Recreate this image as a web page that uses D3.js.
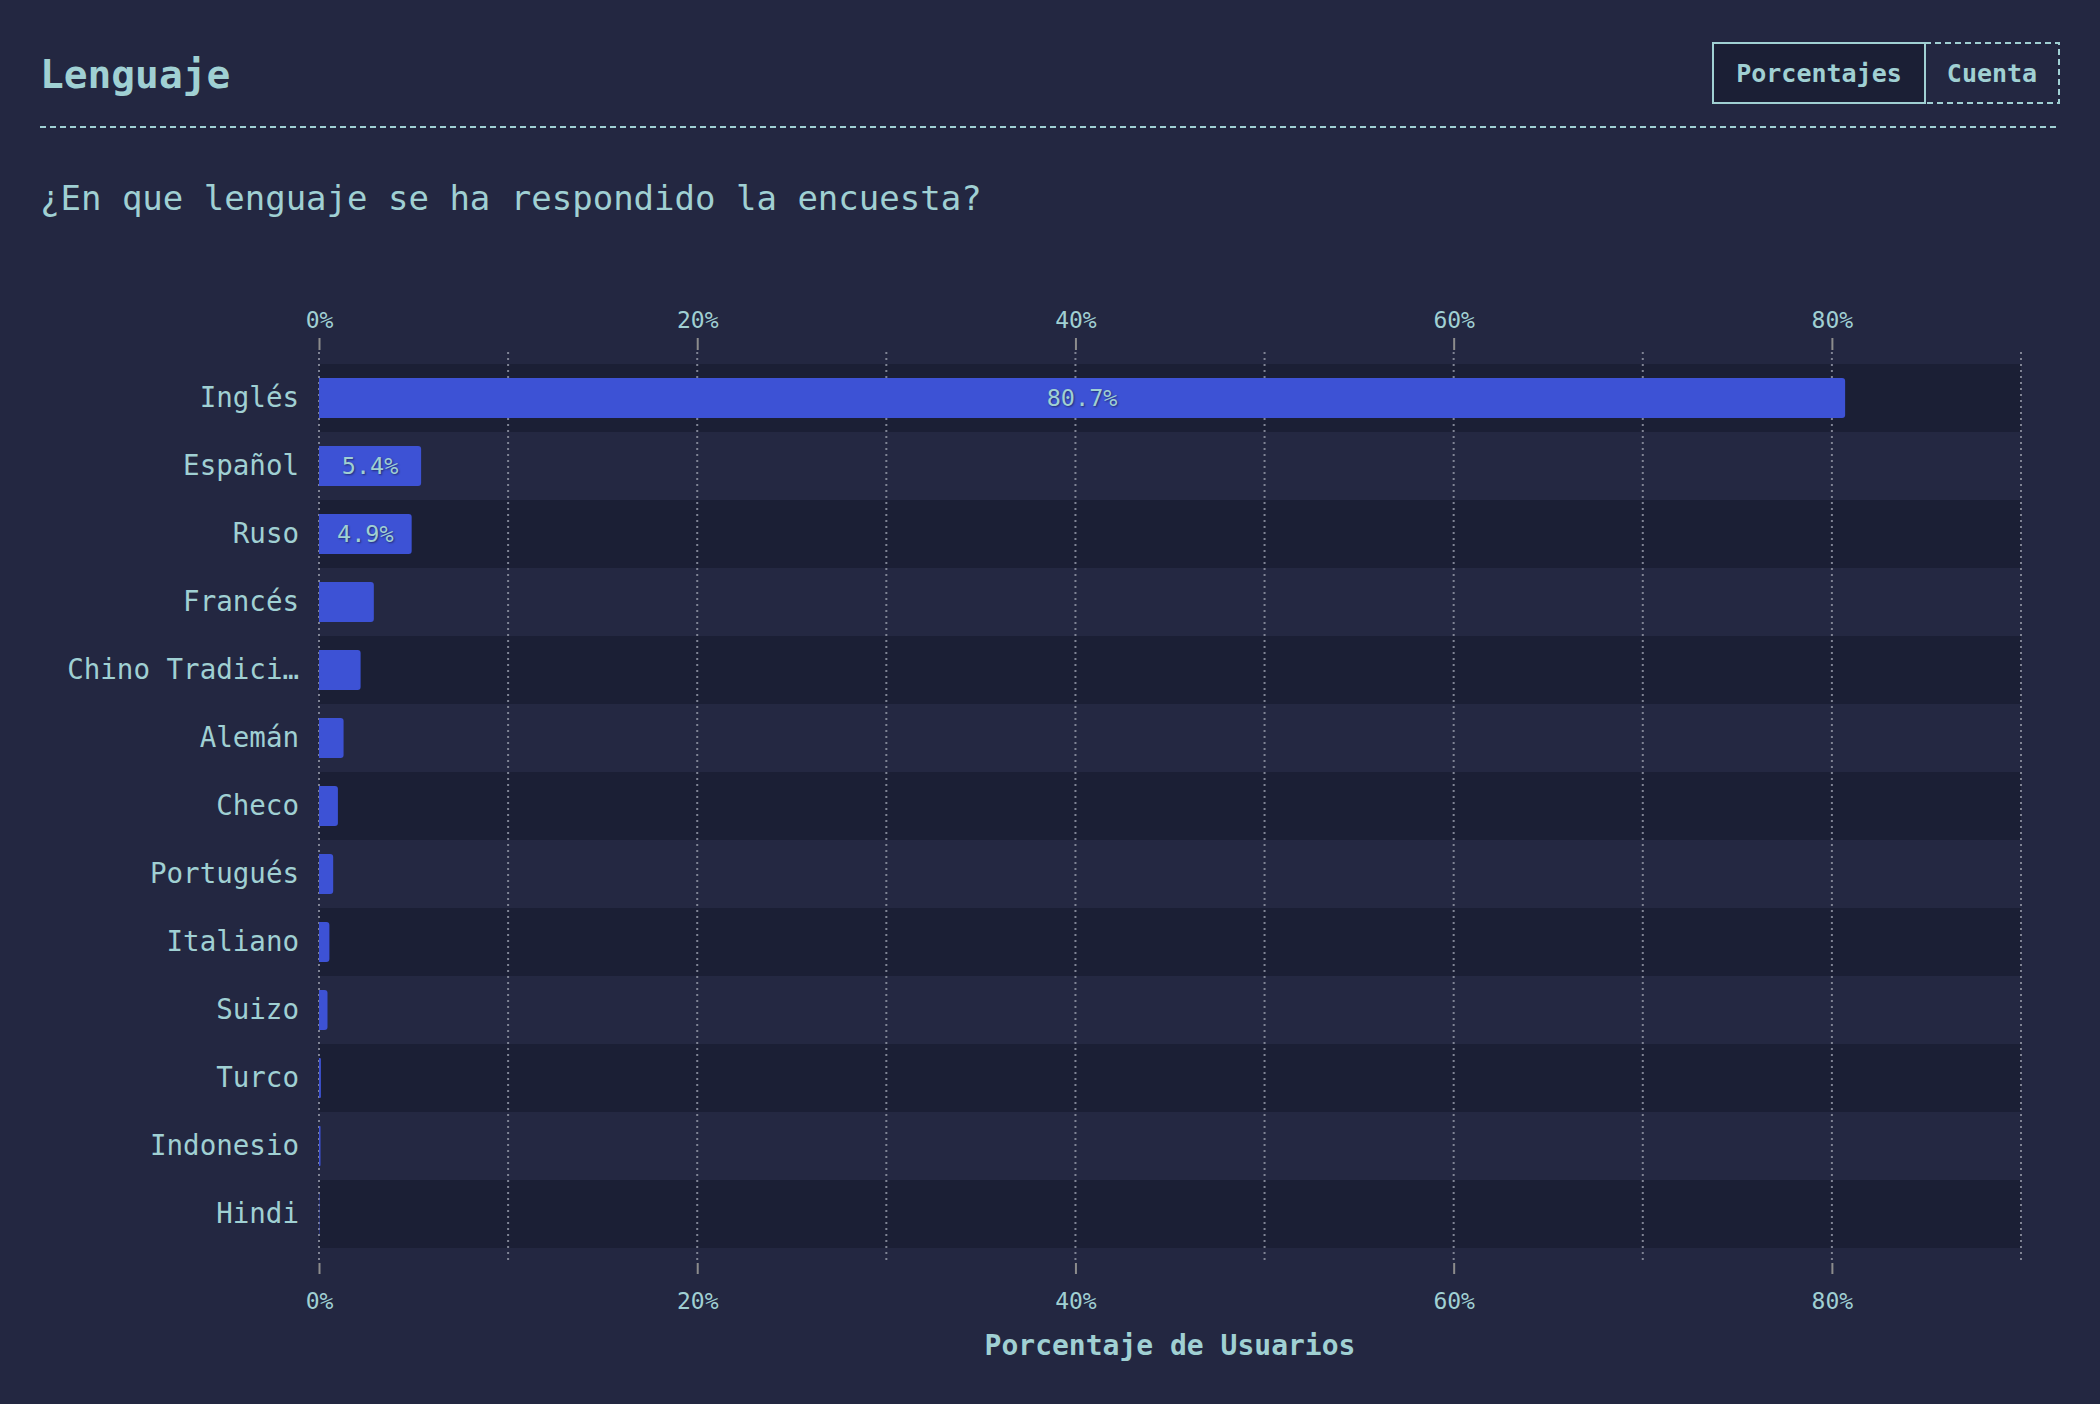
<!DOCTYPE html>
<html>
<head>
<meta charset="utf-8">
<script src="https://cdn.jsdelivr.net/npm/d3@7"></script>
<style>
  html, body { margin: 0; padding: 0; background: #232741; }
  svg { display: block; }
  text { font-family: "DejaVu Sans Mono", "Liberation Mono", monospace; }
</style>
</head>
<body>
<svg id="chart" width="2100" height="1404"></svg>
<script>
// ---- data ----
const categories = ["Inglés", "Español", "Ruso", "Francés", "Chino Tradicional", "Alemán", "Checo",
                    "Portugués", "Italiano", "Suizo", "Turco", "Indonesio", "Hindi"];
const percentages = [80.7, 5.4, 4.9, 2.9, 2.2, 1.3, 1.0, 0.75, 0.55, 0.45, 0.1, 0.08, 0.02];
const tickValues = [0, 20, 40, 60, 80];
const gridValues = [0, 10, 20, 30, 40, 50, 60, 70, 80, 90];
const titleText = "Lenguaje";
const subtitleText = "¿En que lenguaje se ha respondido la encuesta?";
const buttonLabels = ["Porcentajes", "Cuenta"];
const axisTitle = "Porcentaje de Usuarios";

// ---- style ----
const BG = "#232741", DARK = "#1b1f35", LIGHT = "#242842", BAR = "#3d52d5",
      TXT = "#a0d0d3", GRID = "#7f8394", TICK = "#8c8c8c";

const svg = d3.select("#chart");
svg.append("rect").attr("width", 2100).attr("height", 1404).attr("fill", BG);

// header
svg.append("text").attr("x", 40).attr("y", 88).attr("fill", TXT)
  .attr("font-size", 39.5).attr("font-weight", "bold").text(titleText);

svg.append("line").attr("x1", 40).attr("x2", 2060).attr("y1", 127).attr("y2", 127)
  .attr("stroke", TXT).attr("stroke-width", 2).attr("stroke-dasharray", "6,4");

svg.append("text").attr("x", 40).attr("y", 210).attr("fill", TXT)
  .attr("font-size", 34).text(subtitleText);

// buttons
const btn = [{x0: 1713, x1: 1925, active: true}, {x0: 1925, x1: 2059, active: false}];
btn.forEach((b, i) => {
  svg.append("rect").attr("x", b.x0).attr("y", 43).attr("width", b.x1 - b.x0).attr("height", 60)
    .attr("fill", b.active ? DARK : "none").attr("stroke", TXT).attr("stroke-width", 2)
    .attr("stroke-dasharray", b.active ? null : "6,4");
  svg.append("text").attr("x", (b.x0 + b.x1) / 2).attr("y", 82).attr("text-anchor", "middle")
    .attr("fill", TXT).attr("font-size", 25).attr("font-weight", "bold").text(buttonLabels[i]);
});
// redraw the active border on top so the shared edge is solid
svg.append("rect").attr("x", 1713).attr("y", 43).attr("width", 212).attr("height", 60)
  .attr("fill", "none").attr("stroke", TXT).attr("stroke-width", 2);

// scales
const x = d3.scaleLinear().domain([0, 90]).range([319, 2021]);
const yBand = d3.scaleBand().domain(categories).range([364, 1248]).padding(0);
const yBar = d3.scaleBand().domain(categories).range([364, 1248]).paddingInner(28 / 68).paddingOuter(14 / 68);

// row bands
svg.append("g").selectAll("rect").data(categories).join("rect")
  .attr("x", x(0)).attr("width", x(90) - x(0))
  .attr("y", d => yBand(d)).attr("height", yBand.bandwidth())
  .attr("fill", (d, i) => i % 2 === 0 ? DARK : LIGHT);

// gridlines
svg.append("g").selectAll("line").data(gridValues).join("line")
  .attr("x1", d => x(d)).attr("x2", d => x(d)).attr("y1", 352).attr("y2", 1262)
  .attr("stroke", GRID).attr("stroke-width", 2).attr("stroke-dasharray", "2,4");

// axes
const fmt = d => d + "%";
const topAxis = svg.append("g").attr("transform", "translate(0,350)")
  .call(d3.axisTop(x).tickValues(tickValues).tickFormat(fmt).tickSize(12).tickPadding(10));
const botAxis = svg.append("g").attr("transform", "translate(0,1263)")
  .call(d3.axisBottom(x).tickValues(tickValues).tickFormat(fmt).tickSize(11).tickPadding(19));
[topAxis, botAxis].forEach(g => {
  g.select(".domain").remove();
  g.selectAll(".tick line").attr("stroke", TICK).attr("stroke-width", 2);
  g.selectAll(".tick text").attr("fill", TXT).attr("font-size", 23)
    .attr("font-family", "DejaVu Sans Mono, monospace");
});

// y axis labels
const yAxis = svg.append("g").attr("transform", "translate(299,0)")
  .call(d3.axisLeft(yBand).tickSize(0).tickPadding(0)
    .tickFormat(d => d.length > 14 ? d.slice(0, 13) + "…" : d));
yAxis.select(".domain").remove();
yAxis.selectAll(".tick text").attr("fill", TXT).attr("font-size", 27.5)
  .attr("font-family", "DejaVu Sans Mono, monospace");

// bars with rounded right corners
const r = 3;
const barPath = (d, i) => {
  const x0 = x(0), x1 = x(percentages[i]), y0 = yBar(d), h = yBar.bandwidth();
  const rr = Math.min(r, (x1 - x0) / 2);
  return `M${x0},${y0}H${x1 - rr}Q${x1},${y0} ${x1},${y0 + rr}V${y0 + h - rr}Q${x1},${y0 + h} ${x1 - rr},${y0 + h}H${x0}Z`;
};
svg.append("g").selectAll("path").data(categories).join("path")
  .attr("d", barPath).attr("fill", BAR);

// value labels inside wide bars
svg.append("g").selectAll("text").data(categories.filter((d, i) => percentages[i] >= 4))
  .join("text")
  .attr("x", d => (x(0) + x(percentages[categories.indexOf(d)])) / 2)
  .attr("y", d => yBar(d) + yBar.bandwidth() / 2)
  .attr("dy", "0.35em").attr("text-anchor", "middle")
  .attr("fill", TXT).attr("font-size", 23.5)
  .style("text-shadow", "1px 1px 2px rgba(0,0,0,0.45)")
  .text(d => percentages[categories.indexOf(d)].toFixed(1) + "%");

// x axis title
svg.append("text").attr("x", (x(0) + x(90)) / 2).attr("y", 1355).attr("text-anchor", "middle")
  .attr("fill", TXT).attr("font-size", 28).attr("font-weight", "bold").text(axisTitle);
</script>
</body>
</html>
